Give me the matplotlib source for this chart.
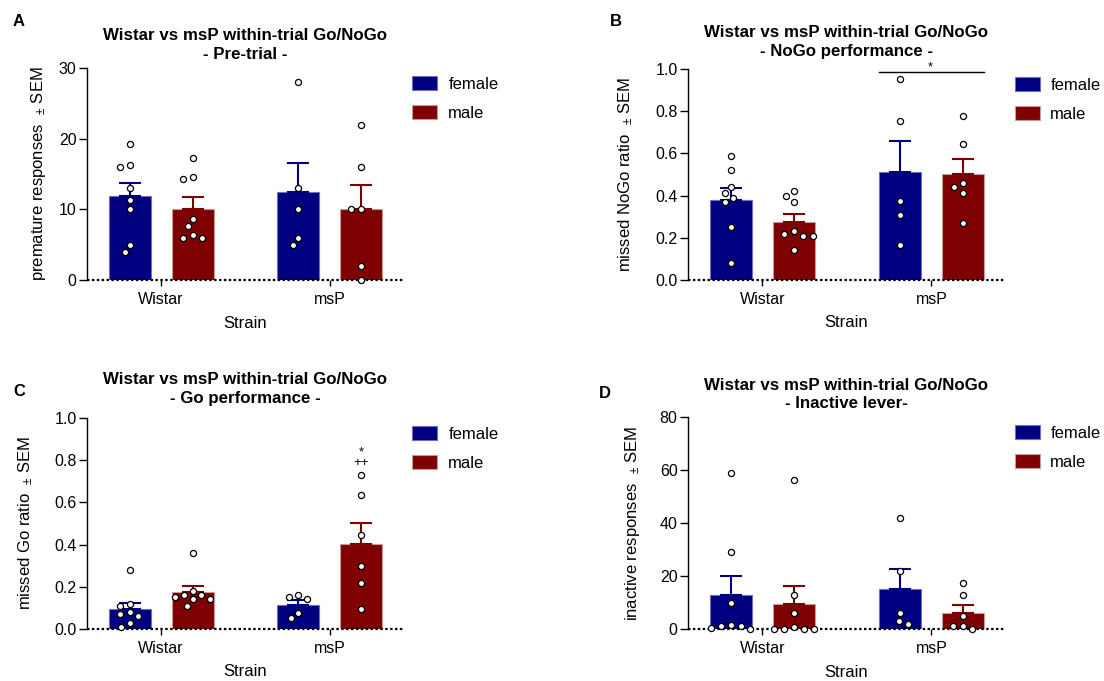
import numpy as np
import matplotlib
matplotlib.use("Agg")
import matplotlib.pyplot as plt
from matplotlib.patches import Patch

plt.rcParams['font.family'] = ['Liberation Sans', 'DejaVu Sans']
plt.rcParams['mathtext.default'] = 'regular'

# Individual animals per group (Wistar / msP, female / male)
strains = ['Wistar', 'msP']
sexes = ['female', 'male']

pre_female = [[19.3, 16.3, 16.0, 13.0, 11.3, 10.0, 5.0, 4.0],
              [28.0, 13.0, 10.0, 6.0, 5.0]]
pre_male = [[17.3, 14.6, 14.3, 8.6, 7.6, 6.3, 6.0, 6.0],
            [22.0, 16.0, 10.0, 10.0, 2.0, 0.0]]

nogo_female = [[0.59, 0.52, 0.44, 0.41, 0.39, 0.37, 0.25, 0.08],
               [0.954, 0.752, 0.374, 0.308, 0.164]]
nogo_male = [[0.42, 0.40, 0.37, 0.23, 0.22, 0.21, 0.21, 0.14],
             [0.776, 0.646, 0.460, 0.442, 0.414, 0.269]]

go_female = [[0.28, 0.12, 0.11, 0.08, 0.07, 0.06, 0.03, 0.01],
             [0.16, 0.15, 0.14, 0.075, 0.05]]
go_male = [[0.36, 0.18, 0.16, 0.16, 0.15, 0.14, 0.14, 0.11],
           [0.73, 0.633, 0.446, 0.30, 0.22, 0.095]]

inactive_female = [[58.7, 29.1, 10.0, 1.4, 1.0, 1.0, 0.5, 0.0],
                   [42.0, 22.0, 6.2, 3.2, 1.9]]
inactive_male = [[56.2, 13.0, 5.9, 0.9, 0.0, 0.0, 0.0, 0.0],
                 [17.3, 13.0, 4.9, 1.1, 1.0, 0.0]]

colors = {'female': '#000080', 'male': '#7f0000'}
edges = {'female': '#6f6fc0', 'male': '#c99a9a'}

W, H = 1104, 681
fig = plt.figure(figsize=(W / 100, H / 100), dpi=100)


def px_axes(left, top, right, bottom):
    return fig.add_axes([left / W, 1 - bottom / H, (right - left) / W, (bottom - top) / H])


def swarm_offsets(values, yscale, sx=10.0, sy=8.0):
    # simple beeswarm in pixel units, biggest values placed first
    values = np.asarray(values, dtype=float)
    order = np.argsort(-values, kind='stable')
    placed = []
    offs = np.zeros(len(values))
    for i in order:
        y = values[i] * yscale
        cands = [0.0]
        for px, py in placed:
            dy = abs(y - py)
            if dy < sy:
                dx = sx * np.sqrt(1 - (dy / sy) ** 2)
                cands += [px - dx, px + dx]

        def ok(x):
            return all(((x - px) / sx) ** 2 + ((y - py) / sy) ** 2 >= 0.999 for px, py in placed)

        best = min((c for c in cands if ok(c)), key=lambda c: (abs(c), c))
        placed.append((best, y))
        offs[i] = best
    return offs


def panel(ax, female, male, ylim, yticks, yfmt, ylabel, title, title_pad, label_x):
    xlim = (-0.44, 1.435)
    ax.set_xlim(*xlim)
    ax.set_ylim(*ylim)
    bb = ax.get_position()
    xscale = bb.width * W / (xlim[1] - xlim[0])
    yscale = bb.height * H / (ylim[1] - ylim[0])
    width, shift = 0.25, 0.187
    for g in range(len(strains)):
        for sex, data, dx in (('female', female, -shift), ('male', male, shift)):
            vals = np.asarray(data[g], dtype=float)
            mean = vals.mean()
            sem = vals.std(ddof=1) / np.sqrt(len(vals))
            x = g + dx
            ax.bar(x, mean, width=width, color=colors[sex], edgecolor=edges[sex],
                   linewidth=0.8, zorder=2)
            ax.errorbar(x, mean, yerr=[[0], [sem]], fmt='none', ecolor=colors[sex],
                        elinewidth=1.5, capsize=8, capthick=1.5, zorder=3)
            xs = x + swarm_offsets(vals, yscale) / xscale
            ax.plot(xs, vals, 'o', ms=4.4, mfc='white', mec='black', mew=0.9,
                    zorder=5, clip_on=False)

    ax.axhline(0, color='black', lw=1.6, ls=(0, (1.1, 1.1)), zorder=4, clip_on=False)
    for s in ('top', 'right', 'bottom'):
        ax.spines[s].set_visible(False)
    ax.spines['left'].set_linewidth(1.0)
    ax.set_xticks(range(len(strains)))
    ax.set_xticklabels(strains)
    ax.set_yticks(yticks)
    ax.set_yticklabels([yfmt.format(t) for t in yticks])
    ax.tick_params(axis='x', length=4.3, width=1.0, pad=4, labelsize=11.5)
    ax.tick_params(axis='y', length=5.5, width=1.0, pad=2, labelsize=11.5)
    ax.set_xlabel('Strain', fontsize=12)
    ax.xaxis.set_label_coords(0.5, -0.168)
    ax.set_ylabel(ylabel + r'  $_{\pm}$ SEM', fontsize=12)
    ax.yaxis.set_label_coords(label_x, 0.5)
    ax.set_title('Wistar vs msP within-trial Go/NoGo\n' + title, fontsize=12.2,
                 fontweight='bold', linespacing=1.3, pad=title_pad)

    handles = [Patch(facecolor=colors[s], edgecolor=edges[s], linewidth=0.8, label=s)
               for s in sexes]
    ax.legend(handles=handles, loc='upper left', bbox_to_anchor=(1.03, 0.962),
              frameon=False, fontsize=12, borderaxespad=0, borderpad=0,
              handlelength=1.5, handleheight=0.9, handletextpad=0.65, labelspacing=0.8)


axA = px_axes(87, 68, 403, 280)
axB = px_axes(688, 69, 1005, 280)
axC = px_axes(87, 418, 403, 629)
axD = px_axes(688, 417, 1005, 629)

panel(axA, pre_female, pre_male, (0, 30), [0, 10, 20, 30], '{:.0f}',
      'premature responses', '- Pre-trial -', 6.6, -0.123)
panel(axB, nogo_female, nogo_male, (0, 1), np.arange(0, 1.01, 0.2), '{:.1f}',
      'missed NoGo ratio', '- NoGo performance -', 9.7, -0.168)
panel(axC, go_female, go_male, (0, 1), np.arange(0, 1.01, 0.2), '{:.1f}',
      'missed Go ratio', '- Go performance -', 11, -0.165)
panel(axD, inactive_female, inactive_male, (0, 80), [0, 20, 40, 60, 80], '{:.0f}',
      'inactive responses', '- Inactive lever-', 6.3, -0.146)

# significance marks
axB.plot([1 - 0.187 - 0.125, 1 + 0.187 + 0.125], [0.986, 0.986], color='black', lw=1.0,
         clip_on=False)
axB.text(0.99, 1.006, '*', ha='center', va='center', fontsize=9, clip_on=False)
axC.text(1.187, 0.785, '++', ha='center', va='center', fontsize=9.5)
axC.text(1.187, 0.835, '*', ha='center', va='center', fontsize=9.5)

for letter, (x, y) in zip('ABCD', [(19, 21), (616, 21), (19, 392), (605, 393)]):
    fig.text(x / W, 1 - y / H, letter, fontsize=12, fontweight='bold', ha='center', va='center')

fig.savefig('out.png', dpi=100)
